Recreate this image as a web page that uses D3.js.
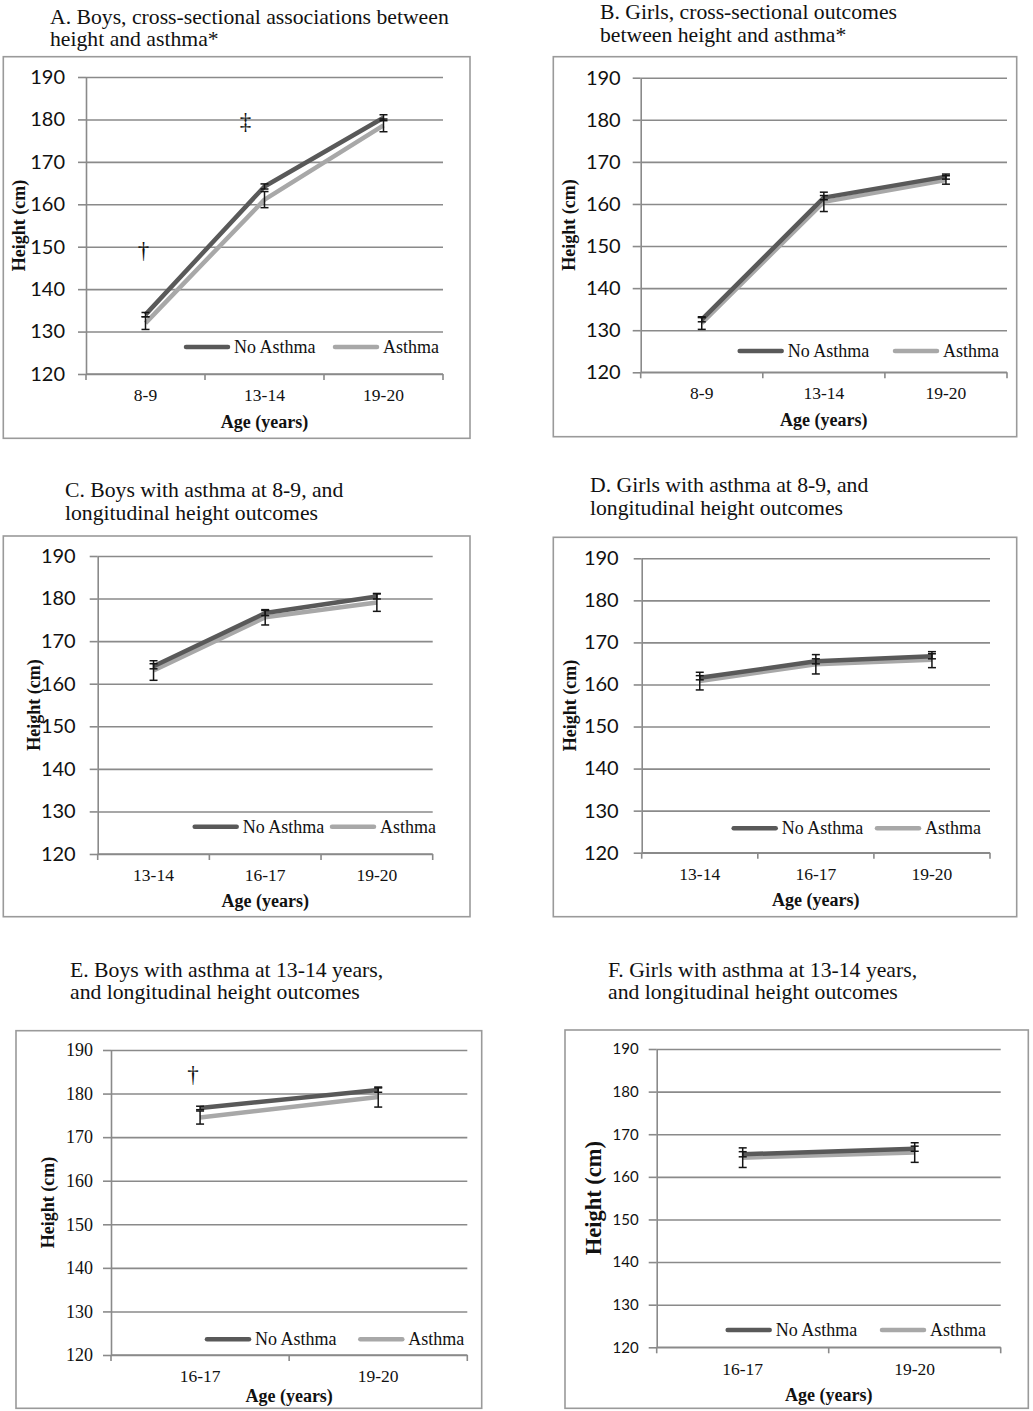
<!DOCTYPE html>
<html>
<head>
<meta charset="utf-8">
<script src="https://cdn.jsdelivr.net/npm/d3@7"></script>
<style>
body { margin: 0; background: #fff; }
svg { display: block; }
</style>
</head>
<body>
<svg id="fig" width="1033" height="1411"></svg>
<script>
// values (cm)
var yTicks = [120, 130, 140, 150, 160, 170, 180, 190];
var seriesNames = ["No Asthma", "Asthma"];

var agesA = ["8-9", "13-14", "19-20"];
var noAsthmaA = [134.0, 164.2, 180.4];
var asthmaA = [132.0, 161.1, 178.6];
var noAsthmaErrA = [0.5, 0.6, 0.7];
var asthmaErrA = [1.5, 1.9, 1.5];

var agesB = ["8-9", "13-14", "19-20"];
var noAsthmaB = [132.5, 161.5, 166.5];
var asthmaB = [131.7, 160.5, 165.7];
var noAsthmaErrB = [0.5, 0.5, 0.6];
var asthmaErrB = [1.5, 2.3, 1.0];

var agesC = ["13-14", "16-17", "19-20"];
var noAsthmaC = [164.1, 176.6, 180.5];
var asthmaC = [163.1, 175.6, 179.1];
var noAsthmaErrC = [0.6, 0.6, 0.6];
var asthmaErrC = [2.3, 1.8, 2.1];

var agesD = ["13-14", "16-17", "19-20"];
var noAsthmaD = [161.6, 165.5, 166.7];
var asthmaD = [160.8, 164.8, 165.9];
var noAsthmaErrD = [0.5, 0.6, 0.6];
var asthmaErrD = [2.1, 2.3, 1.9];

var agesE = ["16-17", "19-20"];
var noAsthmaE = [176.7, 180.8];
var asthmaE = [174.5, 179.2];
var noAsthmaErrE = [0.4, 0.5];
var asthmaErrE = [1.5, 2.3];

var agesF = ["16-17", "19-20"];
var noAsthmaF = [165.3, 166.6];
var asthmaF = [164.5, 165.7];
var noAsthmaErrF = [0.6, 0.6];
var asthmaErrF = [2.3, 2.3];

// significance marks: symbol, age group, height
var marksA = [["†", "8-9", 149.0], ["‡", "13-14", 179.5]];
var marksE = [["†", "16-17", 184.3]];

var titleA = ["A. Boys, cross-sectional associations between", "height and asthma*"];
var titleB = ["B. Girls, cross-sectional outcomes", "between height and asthma*"];
var titleC = ["C. Boys with asthma at 8-9, and", "longitudinal height outcomes"];
var titleD = ["D. Girls with asthma at 8-9, and", "longitudinal height outcomes"];
var titleE = ["E. Boys with asthma at 13-14 years,", "and longitudinal height outcomes"];
var titleF = ["F. Girls with asthma at 13-14 years,", "and longitudinal height outcomes"];

var yLabel = "Height (cm)";
var xLabel = "Age (years)";

var serif = "'Liberation Serif', 'Times New Roman', serif";
var sans = "Lato, 'Open Sans', sans-serif";
var darkGrey = "#595959", lightGrey = "#a8a8a8", gridGrey = "#8a8a8a";

// layout of each small chart
var panels = [
    {title: titleA, ages: agesA, vals: [noAsthmaA, asthmaA], errs: [noAsthmaErrA, asthmaErrA], marks: marksA, markDx: [-2, -19],
     box: [3.3, 56.7, 470, 438.3], plot: [86, 77, 443, 374], tx: 50, ty: 24, tGap: 22,
     tickFont: sans, tickSize: 20, tickPad: 13, ylabX: 19, ylabSize: 18, catY: 401, xTitleY: 428, legY: 347, legX: [184, 333]},
    {title: titleB, ages: agesB, vals: [noAsthmaB, asthmaB], errs: [noAsthmaErrB, asthmaErrB], marks: [], markDx: [],
     box: [553.3, 56.7, 1016.7, 436.7], plot: [640.7, 77.7, 1007, 372.3], tx: 600, ty: 19, tGap: 23,
     tickFont: sans, tickSize: 20, tickPad: 12, ylabX: 569, ylabSize: 18, catY: 399, xTitleY: 426, legY: 351, legX: [737.7, 893]},
    {title: titleC, ages: agesC, vals: [noAsthmaC, asthmaC], errs: [noAsthmaErrC, asthmaErrC], marks: [], markDx: [],
     box: [3.3, 536, 470, 916.7], plot: [97.7, 556, 432.7, 854], tx: 65, ty: 497, tGap: 23,
     tickFont: sans, tickSize: 20, tickPad: 14, ylabX: 33.7, ylabSize: 18, catY: 881, xTitleY: 907, legY: 826.7, legX: [192.7, 330]},
    {title: titleD, ages: agesD, vals: [noAsthmaD, asthmaD], errs: [noAsthmaErrD, asthmaErrD], marks: [], markDx: [],
     box: [553.3, 537.3, 1016.7, 916.7], plot: [641.7, 558.3, 990, 852.7], tx: 590, ty: 492, tGap: 23,
     tickFont: sans, tickSize: 20, tickPad: 15, ylabX: 570, ylabSize: 18, catY: 880, xTitleY: 906, legY: 828.3, legX: [731.7, 875]},
    {title: titleE, ages: agesE, vals: [noAsthmaE, asthmaE], errs: [noAsthmaErrE, asthmaErrE], marks: marksE, markDx: [-7],
     box: [16, 1030.7, 481.7, 1408.3], plot: [111, 1050, 467.3, 1355], tx: 70, ty: 977, tGap: 22,
     tickFont: serif, tickSize: 18, tickPad: 10, ylabX: 48.3, ylabSize: 18, catY: 1382, xTitleY: 1402, legY: 1339.3, legX: [205, 358.3]},
    {title: titleF, ages: agesF, vals: [noAsthmaF, asthmaF], errs: [noAsthmaErrF, asthmaErrF], marks: [], markDx: [],
     box: [565, 1030, 1028.3, 1408.3], plot: [656.7, 1049, 1000.7, 1347.3], tx: 608, ty: 977, tGap: 22,
     tickFont: sans, tickSize: 15, tickPad: 10, ylabX: 593.3, ylabSize: 22.5, catY: 1375, xTitleY: 1401, legY: 1330, legX: [725.7, 880]}
];

var svg = d3.select("#fig");
var colors = [darkGrey, lightGrey];

panels.forEach(function(p) {
    var g = svg.append("g");
    var left = p.plot[0], top = p.plot[1], right = p.plot[2], bottom = p.plot[3];

    // title above the frame
    g.append("text")
        .attr("x", p.tx)
        .attr("y", p.ty)
        .attr("font-family", serif)
        .attr("font-size", 21.7)
        .attr("fill", "#111")
        .selectAll("tspan")
        .data(p.title)
        .enter()
        .append("tspan")
        .attr("x", p.tx)
        .attr("dy", function(d, i) { return i == 0 ? 0 : p.tGap; })
        .text(function(d) { return d; });

    // chart frame
    g.append("rect")
        .attr("x", p.box[0])
        .attr("y", p.box[1])
        .attr("width", p.box[2] - p.box[0])
        .attr("height", p.box[3] - p.box[1])
        .attr("fill", "none")
        .attr("stroke", "#9a9a9a")
        .attr("stroke-width", 1.6);

    var yScale = d3.scaleLinear()
        .domain([120, 190])
        .range([bottom, top]);

    var xScale = d3.scaleBand()
        .domain(p.ages)
        .range([left, right]);

    var cx = function(a) { return xScale(a) + xScale.bandwidth() / 2; };

    // gridlines
    g.append("g")
        .attr("transform", "translate(" + left + ",0)")
        .call(d3.axisLeft(yScale).tickValues(yTicks).tickSize(-(right - left)).tickFormat(""))
        .call(function(s) {
            s.select(".domain").remove();
            s.selectAll("line").attr("stroke", gridGrey).attr("stroke-width", 1.6);
        });

    // y axis
    var yAxis = g.append("g")
        .attr("transform", "translate(" + left + ",0)")
        .call(d3.axisLeft(yScale).tickValues(yTicks).tickSize(8).tickPadding(p.tickPad).tickSizeOuter(0));
    yAxis.select(".domain").attr("stroke", gridGrey).attr("stroke-width", 1.6);
    yAxis.selectAll("line").attr("stroke", gridGrey).attr("stroke-width", 1.6);
    yAxis.selectAll("text")
        .attr("font-family", p.tickFont)
        .attr("font-size", p.tickSize)
        .attr("fill", "#111");

    // x axis: ticks sit between the age groups
    var edges = p.ages.map(function(a) { return xScale(a); }).concat([right]);
    g.append("line")
        .attr("x1", left).attr("x2", right)
        .attr("y1", bottom).attr("y2", bottom)
        .attr("stroke", gridGrey).attr("stroke-width", 1.6);
    g.selectAll(".xtick")
        .data(edges)
        .enter()
        .append("line")
        .attr("x1", function(d) { return d; })
        .attr("x2", function(d) { return d; })
        .attr("y1", bottom)
        .attr("y2", bottom + 6)
        .attr("stroke", gridGrey)
        .attr("stroke-width", 1.6);
    g.selectAll(".xlab")
        .data(p.ages)
        .enter()
        .append("text")
        .attr("x", function(d) { return cx(d); })
        .attr("y", p.catY)
        .attr("text-anchor", "middle")
        .attr("font-family", serif)
        .attr("font-size", 17.5)
        .attr("fill", "#111")
        .text(function(d) { return d; });

    g.append("text")
        .attr("x", (left + right) / 2)
        .attr("y", p.xTitleY)
        .attr("text-anchor", "middle")
        .attr("font-family", serif)
        .attr("font-weight", "bold")
        .attr("font-size", 18)
        .attr("fill", "#111")
        .text(xLabel);

    g.append("text")
        .attr("transform", "translate(" + p.ylabX + "," + (top + bottom) / 2 + ") rotate(-90)")
        .attr("text-anchor", "middle")
        .attr("dominant-baseline", "central")
        .attr("font-family", serif)
        .attr("font-weight", "bold")
        .attr("font-size", p.ylabSize)
        .attr("fill", "#111")
        .text(yLabel);

    // series lines, asthma underneath
    var line = d3.line()
        .x(function(d, i) { return cx(p.ages[i]); })
        .y(function(d) { return yScale(d); });

    [1, 0].forEach(function(s) {
        g.append("path")
            .datum(p.vals[s])
            .attr("d", line)
            .attr("fill", "none")
            .attr("stroke", colors[s])
            .attr("stroke-width", 4.5)
            .attr("stroke-linejoin", "round");
    });

    // error bars
    [0, 1].forEach(function(s) {
        var eb = g.selectAll(".eb" + s)
            .data(p.vals[s])
            .enter()
            .append("g");
        eb.append("line")
            .attr("x1", function(d, i) { return cx(p.ages[i]); })
            .attr("x2", function(d, i) { return cx(p.ages[i]); })
            .attr("y1", function(d, i) { return yScale(d - p.errs[s][i]); })
            .attr("y2", function(d, i) { return yScale(d + p.errs[s][i]); });
        eb.append("line")
            .attr("x1", function(d, i) { return cx(p.ages[i]) - 4; })
            .attr("x2", function(d, i) { return cx(p.ages[i]) + 4; })
            .attr("y1", function(d, i) { return yScale(d - p.errs[s][i]); })
            .attr("y2", function(d, i) { return yScale(d - p.errs[s][i]); });
        eb.append("line")
            .attr("x1", function(d, i) { return cx(p.ages[i]) - 4; })
            .attr("x2", function(d, i) { return cx(p.ages[i]) + 4; })
            .attr("y1", function(d, i) { return yScale(d + p.errs[s][i]); })
            .attr("y2", function(d, i) { return yScale(d + p.errs[s][i]); });
        eb.selectAll("line")
            .attr("stroke", "#151515")
            .attr("stroke-width", 1.5);
    });

    // significance symbols
    g.selectAll(".mark")
        .data(p.marks)
        .enter()
        .append("text")
        .attr("x", function(d, i) { return cx(d[1]) + p.markDx[i]; })
        .attr("y", function(d) { return yScale(d[2]); })
        .attr("text-anchor", "middle")
        .attr("dominant-baseline", "central")
        .attr("font-family", serif)
        .attr("font-size", 23)
        .attr("fill", "#111")
        .text(function(d) { return d[0]; });

    // legend
    seriesNames.forEach(function(name, s) {
        g.append("line")
            .attr("x1", p.legX[s] + 2)
            .attr("x2", p.legX[s] + 44)
            .attr("y1", p.legY)
            .attr("y2", p.legY)
            .attr("stroke", colors[s])
            .attr("stroke-width", 4.5)
            .attr("stroke-linecap", "round");
        g.append("text")
            .attr("x", p.legX[s] + 50)
            .attr("y", p.legY + 6)
            .attr("font-family", serif)
            .attr("font-size", 18)
            .attr("fill", "#111")
            .text(name);
    });
});
</script>
</body>
</html>
